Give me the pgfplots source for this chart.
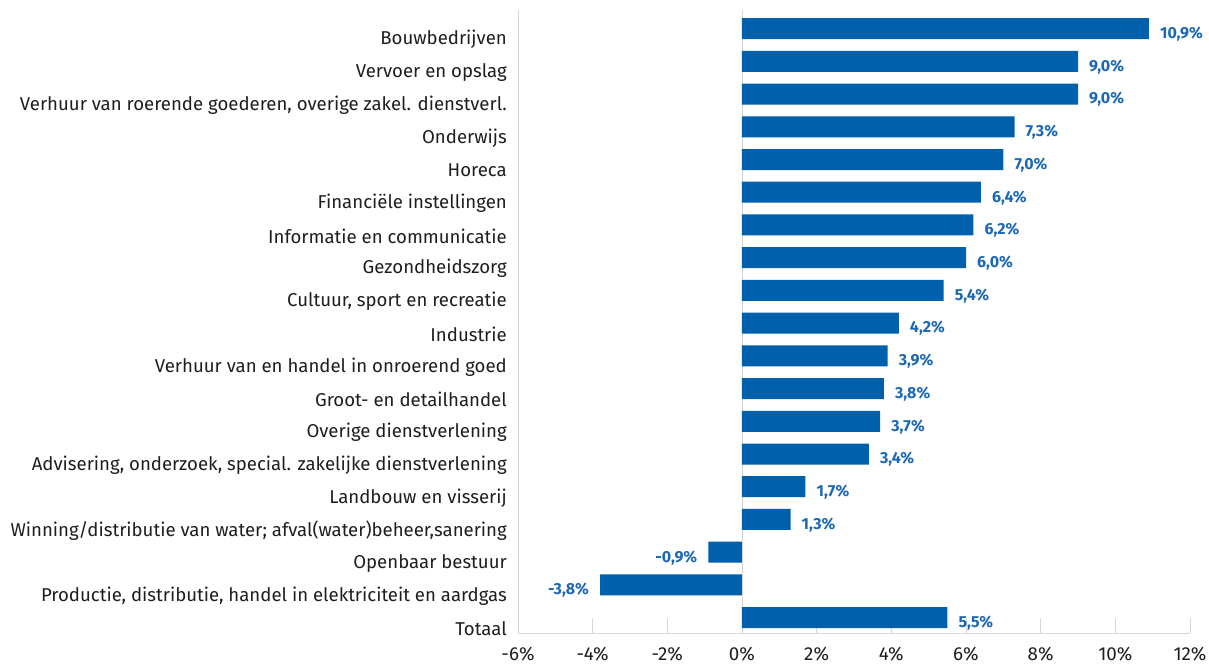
\documentclass[border=0pt]{standalone}
\usepackage{pgfplots}
\pgfplotsset{compat=1.18}
\usepackage{fontspec}
\setmainfont{Fira Sans}
\definecolor{barblue}{RGB}{0,96,172}
\definecolor{lblblue}{RGB}{28,104,180}
\definecolor{axgray}{RGB}{215,215,215}
\definecolor{txt}{RGB}{30,30,30}
\begin{document}
\begin{tikzpicture}
\begin{axis}[
    scale only axis,
    width=672pt, height=623pt,
    xbar, bar width=21pt, bar shift=0pt,
    xmin=-6, xmax=12, ymin=-0.47, ymax=18.57,
    xtick={-6,-4,...,12},
    ytick={0,...,18},
    yticklabels={Totaal,
      {Productie, distributie, handel in elektriciteit en aardgas},
      Openbaar bestuur,
      {Winning/distributie van water; afval(water)beheer,sanering},
      Landbouw en visserij,
      {Advisering, onderzoek, special. zakelijke dienstverlening},
      Overige dienstverlening,
      Groot- en detailhandel,
      Verhuur van en handel in onroerend goed,
      Industrie,
      {Cultuur, sport en recreatie},
      Gezondheidszorg,
      Informatie en communicatie,
      Financiële instellingen,
      Horeca,
      Onderwijs,
      {Verhuur van roerende goederen, overige zakel. dienstverl.},
      Vervoer en opslag,
      Bouwbedrijven},
    axis x line=bottom, axis y line=left,
    axis line style={axgray, line width=0.8pt, -},
    tick align=inside,
    xtick style={axgray, line width=0.8pt},
    major tick length=15pt,
    ytick style={draw=none},
    /pgf/number format/assume math mode=true,
    xticklabel={\pgfmathprintnumber{\tick}\%},
    xticklabel style={inner sep=0pt, anchor=north, yshift=-14pt,
      font=\fontsize{18.8}{21}\selectfont, text=txt},
    yticklabel style={inner sep=0pt, anchor=east, xshift=-11pt, yshift=-11pt,
      font=\fontsize{18.6}{21}\selectfont, text=txt},
    clip=false,
    nodes near coords={\pgfmathprintnumber[fixed,fixed zerofill,precision=1,use comma]{\pgfplotspointmeta}\%},
    every node near coord/.append style={font=\fontsize{16}{18}\selectfont\bfseries,
      text=lblblue, inner sep=0pt, yshift=-5.5pt},
  ]
  \draw[axgray, line width=0.8pt] (axis cs:0,-0.47) -- (axis cs:0,18.57);
  \addplot[draw=none, fill=barblue,
    every node near coord/.append style={anchor=west, xshift=11pt}]
    coordinates {
      (5.5,0)
      (1.3,3) (1.7,4) (3.4,5) (3.7,6) (3.8,7) (3.9,8) (4.2,9)
      (5.4,10) (6.0,11) (6.2,12) (6.4,13) (7.0,14) (7.3,15)
      (9.0,16) (9.0,17) (10.9,18)
    };
  \addplot[draw=none, fill=barblue,
    every node near coord/.append style={anchor=east, xshift=-11pt}]
    coordinates {
      (-3.8,1) (-0.9,2)
    };
\end{axis}
\pgfresetboundingbox
\path (-518pt,-33pt) rectangle (691pt,633pt);
\end{tikzpicture}
\end{document}
